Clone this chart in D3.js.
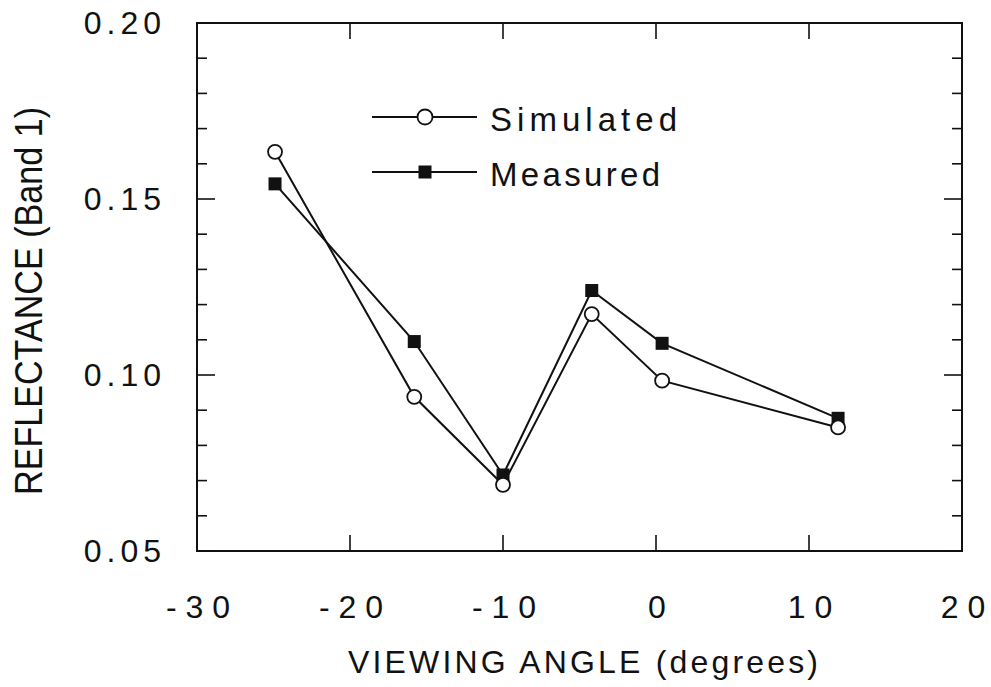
<!DOCTYPE html>
<html><head><meta charset="utf-8">
<script src="https://cdn.jsdelivr.net/npm/d3@7"></script>
<style>
html,body{margin:0;padding:0;background:#fff;}
svg text{font-family:"Liberation Sans",Arial,Helvetica,sans-serif;fill:#111;}
</style></head>
<body>
<svg id="chart" width="991" height="687"></svg>
<script>
const angles = [-24.9, -15.8, -10.0, -4.2, 0.4, 11.9];
const simulated = [0.1634, 0.0938, 0.0688, 0.1173, 0.0984, 0.0851];
const measured = [0.1543, 0.1095, 0.0716, 0.1240, 0.1090, 0.0877];
const xTicks = [-30, -20, -10, 0, 10, 20];
const yTicks = [0.05, 0.10, 0.15, 0.20];
const yMinor = [0.06,0.07,0.08,0.09,0.11,0.12,0.13,0.14,0.16,0.17,0.18,0.19];
const seriesNames = ["Simulated", "Measured"];

const svg = d3.select("#chart");
const L = 197, R = 962, T = 23, B = 551;
const x = d3.scaleLinear().domain([-30, 20]).range([L, R]);
const y = d3.scaleLinear().domain([0.05, 0.20]).range([B, T]);
const ink = "#111";

// spaced text without trailing spacing
function spaced(sel, str, gap) {
  str.split("").forEach((ch, i) => {
    sel.append("tspan").attr("dx", i === 0 ? 0 : gap).text(ch);
  });
  return sel;
}

// frame
svg.append("rect").attr("x", L).attr("y", T).attr("width", R - L).attr("height", B - T)
  .attr("fill", "none").attr("stroke", ink).attr("stroke-width", 2);

const gy = svg.append("g");
yTicks.forEach(v => {
  gy.append("line").attr("x1", L).attr("x2", L + 18).attr("y1", y(v)).attr("y2", y(v)).attr("stroke", ink).attr("stroke-width", 1.6);
  gy.append("line").attr("x1", R).attr("x2", R - 18).attr("y1", y(v)).attr("y2", y(v)).attr("stroke", ink).attr("stroke-width", 1.6);
});
yMinor.forEach(v => {
  gy.append("line").attr("x1", L).attr("x2", L + 10).attr("y1", y(v)).attr("y2", y(v)).attr("stroke", ink).attr("stroke-width", 1.6);
  gy.append("line").attr("x1", R).attr("x2", R - 10).attr("y1", y(v)).attr("y2", y(v)).attr("stroke", ink).attr("stroke-width", 1.6);
});
xTicks.slice(1, -1).forEach(v => {
  gy.append("line").attr("x1", x(v)).attr("x2", x(v)).attr("y1", B).attr("y2", B - 16).attr("stroke", ink).attr("stroke-width", 1.6);
  gy.append("line").attr("x1", x(v)).attr("x2", x(v)).attr("y1", T).attr("y2", T + 16).attr("stroke", ink).attr("stroke-width", 1.6);
});

// y tick labels
yTicks.forEach(v => {
  const t = svg.append("text").attr("x", 161).attr("y", y(v) + 11)
    .attr("text-anchor", "end").attr("font-size", 32);
  spaced(t, d3.format(".2f")(v), 5);
});
// x tick labels
xTicks.forEach(v => {
  const t = svg.append("text").attr("x", x(v) + 1).attr("y", 618)
    .attr("text-anchor", "middle").attr("font-size", 32);
  spaced(t, String(v), 9);
});

// axis titles
svg.append("text").attr("x", 583).attr("y", 673).attr("text-anchor", "middle")
  .attr("font-size", 32).attr("textLength", 470).attr("lengthAdjust", "spacing")
  .text("VIEWING ANGLE (degrees)");
svg.append("text").attr("transform", "translate(42,301) rotate(-90)")
  .attr("text-anchor", "middle").attr("font-size", 39)
  .attr("textLength", 388).attr("lengthAdjust", "spacingAndGlyphs")
  .text("REFLECTANCE (Band 1)");

// lines
const line = d3.line().x(d => x(d[0])).y(d => y(d[1]));
const simData = angles.map((a, i) => [a, simulated[i]]);
const measData = angles.map((a, i) => [a, measured[i]]);
svg.append("path").datum(simData).attr("d", line).attr("fill", "none").attr("stroke", ink).attr("stroke-width", 2);
svg.append("path").datum(measData).attr("d", line).attr("fill", "none").attr("stroke", ink).attr("stroke-width", 2);

const sq = 13;
svg.selectAll(".m").data(measData).enter().append("rect")
  .attr("x", d => x(d[0]) - sq / 2).attr("y", d => y(d[1]) - sq / 2)
  .attr("width", sq).attr("height", sq).attr("fill", ink);
svg.selectAll(".s").data(simData).enter().append("circle")
  .attr("cx", d => x(d[0])).attr("cy", d => y(d[1])).attr("r", 7)
  .attr("fill", "#fff").attr("stroke", ink).attr("stroke-width", 1.8);

// legend
const legY = [117, 172];
legY.forEach((ly, i) => {
  svg.append("line").attr("x1", 372).attr("x2", 477).attr("y1", ly).attr("y2", ly).attr("stroke", ink).attr("stroke-width", 2);
  if (i === 0) {
    svg.append("circle").attr("cx", 425).attr("cy", ly).attr("r", 7.5).attr("fill", "#fff").attr("stroke", ink).attr("stroke-width", 1.8);
  } else {
    svg.append("rect").attr("x", 425 - sq / 2).attr("y", ly - sq / 2).attr("width", sq).attr("height", sq).attr("fill", ink);
  }
  svg.append("text").attr("x", 490).attr("y", ly + 14).attr("font-size", 33)
    .attr("textLength", i === 0 ? 187 : 170).attr("lengthAdjust", "spacing")
    .text(seriesNames[i]);
});
</script>
</body></html>
